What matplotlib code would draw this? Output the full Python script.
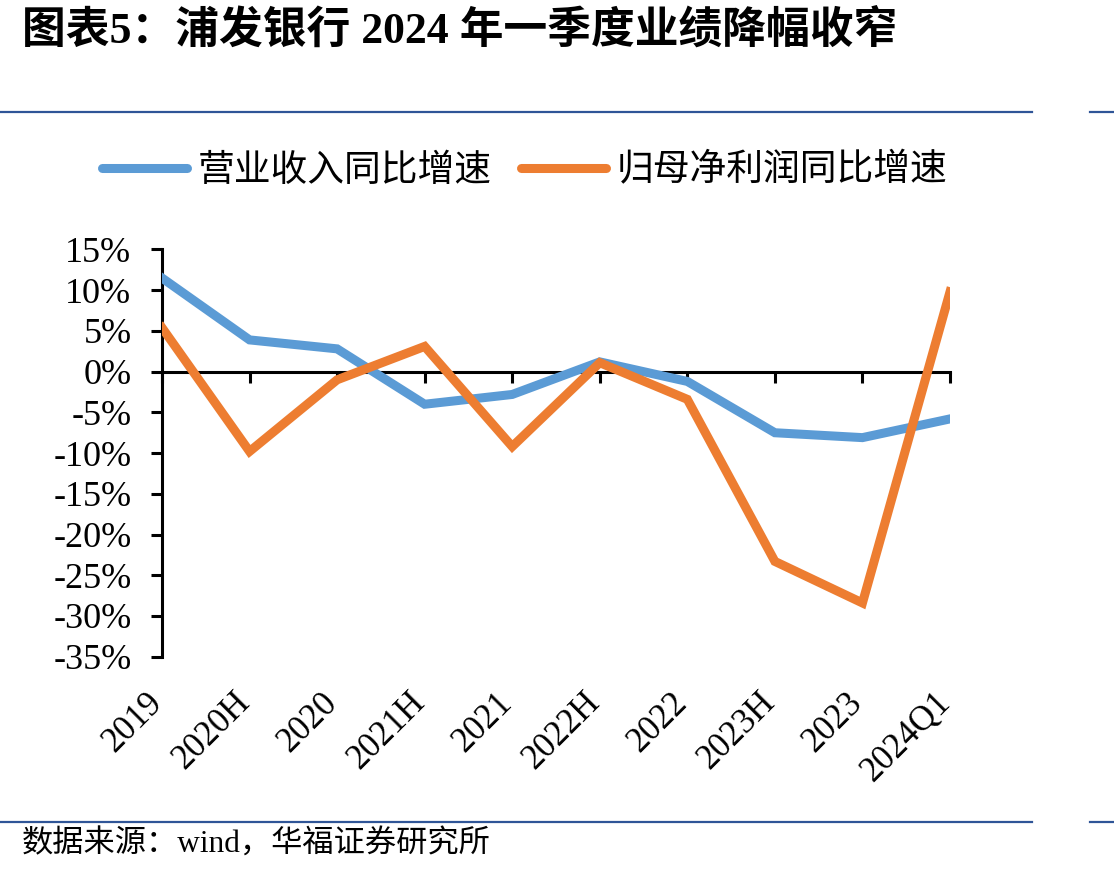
import matplotlib
matplotlib.use("Agg")
import matplotlib.pyplot as plt
import matplotlib.transforms as mtransforms
from matplotlib.lines import Line2D

categories = ["2019", "2020H", "2020", "2021H", "2021", "2022H", "2022", "2023H", "2023", "2024Q1"]
revenue_growth = [11.5, 3.9, 2.8, -4.0, -2.8, 1.2, -1.2, -7.5, -8.1, -5.8]
profit_growth = [5.4, -9.8, -1.0, 3.1, -9.2, 1.1, -3.4, -23.3, -28.4, 9.8]
yticks = [15, 10, 5, 0, -5, -10, -15, -20, -25, -30, -35]

title = "图表5：浦发银行 2024 年一季度业绩降幅收窄"
source = "数据来源：wind，华福证券研究所"
series_names = ["营业收入同比增速", "归母净利润同比增速"]

blue = "#5B9BD5"
orange = "#ED7D31"
rule_blue = "#2F5597"
mixed = ["Liberation Serif", "Noto Sans CJK SC"]

W, H = 1114, 876
fig = plt.figure(figsize=(W / 100, H / 100), dpi=100)
fig.patch.set_facecolor("white")

ax = fig.add_axes([162 / W, 1 - 656.7 / H, (950 - 162) / W, (656.7 - 249.5) / H])
x = list(range(len(categories)))
ax.plot(x, revenue_growth, color=blue, lw=6.5, solid_joinstyle="miter", zorder=3)
ax.plot(x, profit_growth, color=orange, lw=6.5, solid_joinstyle="miter", zorder=4)

ax.set_xlim(0, len(categories) - 1)
ax.set_ylim(-35, 15)

for s in ["top", "right"]:
    ax.spines[s].set_visible(False)
ax.spines["left"].set_linewidth(2.2)
ax.spines["bottom"].set_position(("data", 0))
ax.spines["bottom"].set_linewidth(2.2)
ax.spines["bottom"].set_zorder(2)

ax.set_yticks(yticks)
ax.set_yticklabels([f"{v}%" for v in yticks], fontfamily="Liberation Serif", fontsize=26)
ax.tick_params(axis="y", direction="out", length=8, width=2.2, pad=14)
ax.set_xticks(x)
ax.set_xticklabels([])
ax.tick_params(axis="x", direction="out", length=8, width=2.2)

trans = mtransforms.blended_transform_factory(ax.transData, ax.transAxes)
for xi, lab in zip(x, categories):
    ax.text(xi + 0.08, -0.072, lab, transform=trans, rotation=45, ha="right", va="top",
            fontfamily="Liberation Serif", fontsize=25)

handles = [Line2D([0], [0], color=blue, lw=6.5, solid_capstyle="round"),
           Line2D([0], [0], color=orange, lw=6.5, solid_capstyle="round")]
fig.legend(handles, series_names, loc="center left", bbox_to_anchor=(102 / W, 1 - 170 / H),
           ncol=2, frameon=False, handlelength=2.3, handletextpad=0.3, columnspacing=0.8,
           borderpad=0, borderaxespad=0, prop={"family": "Noto Sans CJK SC", "size": 26.5})

fig.text(22 / W, 1 - 30 / H, title, ha="left", va="center", fontsize=31.5,
         fontweight="bold", family=mixed)
fig.text(22 / W, 1 - 845 / H, source, ha="left", va="center", fontsize=22.5, family=mixed)

for yy in [112, 822]:
    fig.add_artist(Line2D([0, 1032 / W], [1 - yy / H] * 2, color=rule_blue, lw=1.6))
    fig.add_artist(Line2D([1090 / W, 1], [1 - yy / H] * 2, color=rule_blue, lw=1.6))

fig.savefig("out.png", dpi=100)
